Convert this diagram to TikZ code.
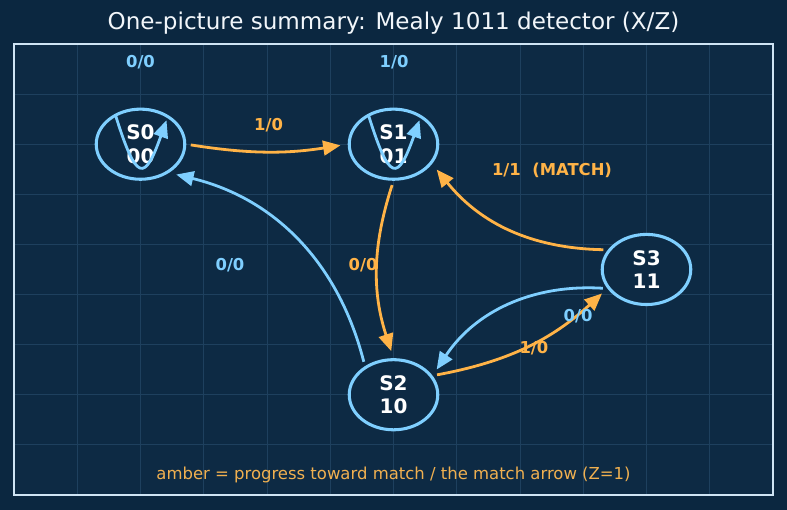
\documentclass[tikz,border=0pt]{standalone}
\usepackage{fontspec}
\setmainfont{DejaVu Sans}
\usetikzlibrary{arrows.meta,shapes.geometric,calc}
\definecolor{bgc}{HTML}{0B2740}
\definecolor{axc}{HTML}{0D2A44}
\definecolor{gridc}{HTML}{1E405E}
\definecolor{framec}{HTML}{CFE4F4}
\definecolor{lblue}{HTML}{7FCFFF}
\definecolor{amber}{HTML}{FFB347}
\definecolor{ambertxt}{HTML}{F0B050}
\definecolor{titlec}{HTML}{F2F6FA}
\begin{document}
\begin{tikzpicture}[x=47.4375pt,y=37.58pt,
  state/.style={ellipse, draw=lblue, line width=2.3pt, fill=axc,
    minimum width=66.4pt, minimum height=52.6pt, inner sep=0pt,
    text=white, font=\bfseries\fontsize{15}{17.5}\selectfont, align=center},
  tip/.style={-{Triangle[length=13pt,width=11pt]}},
  edgeb/.style={draw=lblue, line width=2.1pt, tip, shorten <=3.4pt, shorten >=5.5pt},
  edgea/.style={edgeb, draw=amber},
  loopb/.style={draw=lblue, line width=2.1pt, tip},
  lblb/.style={text=lblue, font=\bfseries\fontsize{12.3}{14}\selectfont, inner sep=1pt},
  lbla/.style={lblb, text=amber}]
% background and bounding box
\fill[bgc] (-0.2213,-0.2993) rectangle (12.2213,9.878);
\useasboundingbox (-0.2213,-0.2993) rectangle (12.2213,9.878);
\fill[axc] (0,0) rectangle (12,9);
\foreach \i in {1,...,11} \draw[gridc, line width=0.6pt] (\i,0) -- (\i,9);
\foreach \j in {1,...,8} \draw[gridc, line width=0.6pt] (0,\j) -- (12,\j);
\draw[framec, line width=1.5pt] (0,0) rectangle (12,9);
% title and note
\node[text=titlec, font=\fontsize{17.3}{20}\selectfont] (title) at (6,9.42) {One-picture summary: Mealy 1011 detector (X/Z)};
\node[text=ambertxt, font=\fontsize{12.35}{14}\selectfont] (note) at (6,0.40) {amber = progress toward match / the match arrow (Z=1)};
% states
\node[state] (S0) at (2,7) {S0\\00};
\node[state] (S1) at (6,7) {S1\\01};
\node[state] (S2) at (6,2) {S2\\10};
\node[state] (S3) at (10,4.5) {S3\\11};
% transitions
\draw[edgea] (S0.0) to[bend right=9] (S1.180);
\draw[edgea] (S1.270) to[bend right=18] (S2.90);
\draw[edgeb] (S2.135) to[bend right=31] (S0.315);
\draw[edgea] (S2.26) to[bend right=16] (S3.206);
\draw[edgeb] (S3.206) to[bend right=30] (S2.26);
\draw[edgea] (S3.153) to[bend left=25] (S1.333);
% self loops
\draw[loopb] ($(S0.center)+(-18.75pt,21.75pt)$) .. controls ($(S0.center)+(-3pt,-28.5pt)$) and ($(S0.center)+(3pt,-28.5pt)$) .. ($(S0.center)+(19.5pt,18pt)$);
\draw[loopb] ($(S1.center)+(-18.75pt,21.75pt)$) .. controls ($(S1.center)+(-3pt,-28.5pt)$) and ($(S1.center)+(3pt,-28.5pt)$) .. ($(S1.center)+(19.5pt,18pt)$);
% labels
\node[lblb] (l00) at (2,8.627) {0/0};
\node[lblb] (l11) at (6.01,8.627) {1/0};
\node[lbla] (l01) at (4.024,7.384) {1/0};
\node[lbla] (l31) at (8.506,6.472) {1/1\ \ (MATCH)};
\node[lblb] (l20) at (3.415,4.59) {0/0};
\node[lbla] (l12) at (5.518,4.59) {0/0};
\node[lblb] (l32) at (8.917,3.558) {0/0};
\node[lbla] (l23) at (8.221,2.927) {1/0};
\end{tikzpicture}
\end{document}
